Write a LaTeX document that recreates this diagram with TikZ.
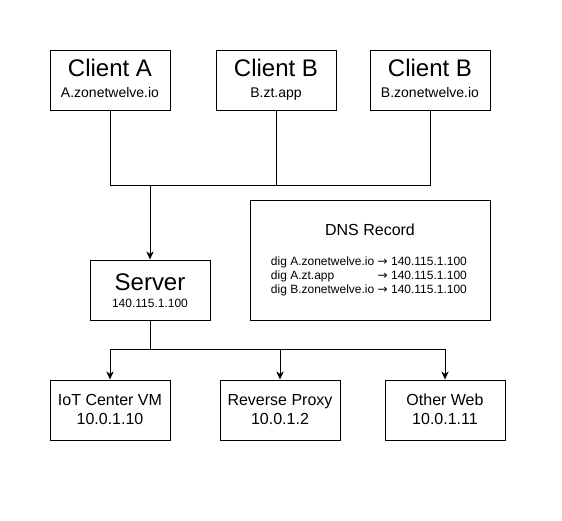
\documentclass[tikz,border=0pt]{standalone}
\usepackage{fontspec}
\setmainfont{Liberation Sans}
\newfontfamily\arrowfont{DejaVu Sans}
\newcommand{\rarr}{{\arrowfont →}}
\usetikzlibrary{arrows.meta}
\begin{document}
\begin{tikzpicture}[x=0.75pt,y=-0.75pt,
  box/.style={draw,line width=0.75pt,minimum width=90pt,minimum height=45pt,inner sep=0pt},
  bigbox/.style={draw,line width=0.75pt,minimum width=180pt,minimum height=90pt,inner sep=0pt},
  ttl/.style={anchor=base,inner sep=0pt,font=\fontsize{18}{21}\selectfont},
  sub/.style={anchor=base,inner sep=0pt,font=\fontsize{10.5}{12.6}\selectfont},
  sub12/.style={anchor=base,inner sep=0pt,font=\fontsize{9}{10.8}\selectfont},
  mid/.style={anchor=base,inner sep=0pt,font=\fontsize{12}{14.4}\selectfont},
  wire/.style={line width=0.75pt},
  arr/.style={line width=0.75pt,-{Stealth[length=6pt,width=5.5pt,inset=1.8pt]}}]
\fill[white] (0,0) rectangle (562,521);
\useasboundingbox (0,0) rectangle (562,521);
% clients
\node[box] (ca) at (110,80) {};
\node[box] (cb) at (276,80) {};
\node[box] (cc) at (430,80) {};
\node[ttl] (catl) at (110,76.7) {Client A};
\node[sub] (casb) at (110,97.3) {A.zonetwelve.io};
\node[ttl] (cbtl) at (276,76.7) {Client B};
\node[sub] (cbsb) at (276,97.3) {B.zt.app};
\node[ttl] (cctl) at (430,76.7) {Client B};
\node[sub] (ccsb) at (430,97.3) {B.zonetwelve.io};
% server
\node[box] (srv) at (150,290) {};
\node[ttl] (srvtl) at (150,290) {Server};
\node[sub12] (srvsb) at (150,307) {140.115.1.100};
% dns
\node[bigbox] (dns) at (370,260.5) {};
\node[mid] (dnstl) at (370,235) {DNS Record};
\node[anchor=base west,inner sep=0pt,font=\fontsize{9}{10.65}\selectfont] (dnsrec) at (270.7,265)
  {\begin{tabular}[t]{@{}l@{\ }l@{}}
   dig A.zonetwelve.io & \rarr\ 140.115.1.100\\
   dig A.zt.app & \rarr\ 140.115.1.100\\
   dig B.zonetwelve.io & \rarr\ 140.115.1.100
   \end{tabular}};
% bottom
\node[box] (iot) at (110,410) {};
\node[box] (rp) at (280,410) {};
\node[box] (ow) at (445,410) {};
\node[mid] (iottl) at (110,405.7) {IoT Center VM};
\node[mid] (iotsb) at (110,424) {10.0.1.10};
\node[mid] (rptl) at (280,405.7) {Reverse Proxy};
\node[mid] (rpsb) at (280,424) {10.0.1.2};
\node[mid] (owtl) at (445,405.7) {Other Web};
\node[mid] (owsb) at (445,424) {10.0.1.11};
% connectors
\coordinate (j) at (150,185);
\coordinate (k) at (150,349);
\draw[wire] (ca.south) -- (ca.south |- j) -| (cc.south);
\draw[wire] (cb.south) -- (cb.south |- j);
\draw[arr] (j) -- (srv.north);
\draw[wire] (srv.south) -- (k);
\draw[arr] (k) -| (iot.north);
\draw[arr] (k) -| (ow.north);
\draw[arr] (rp.north |- k) -- (rp.north);
\end{tikzpicture}
\end{document}
